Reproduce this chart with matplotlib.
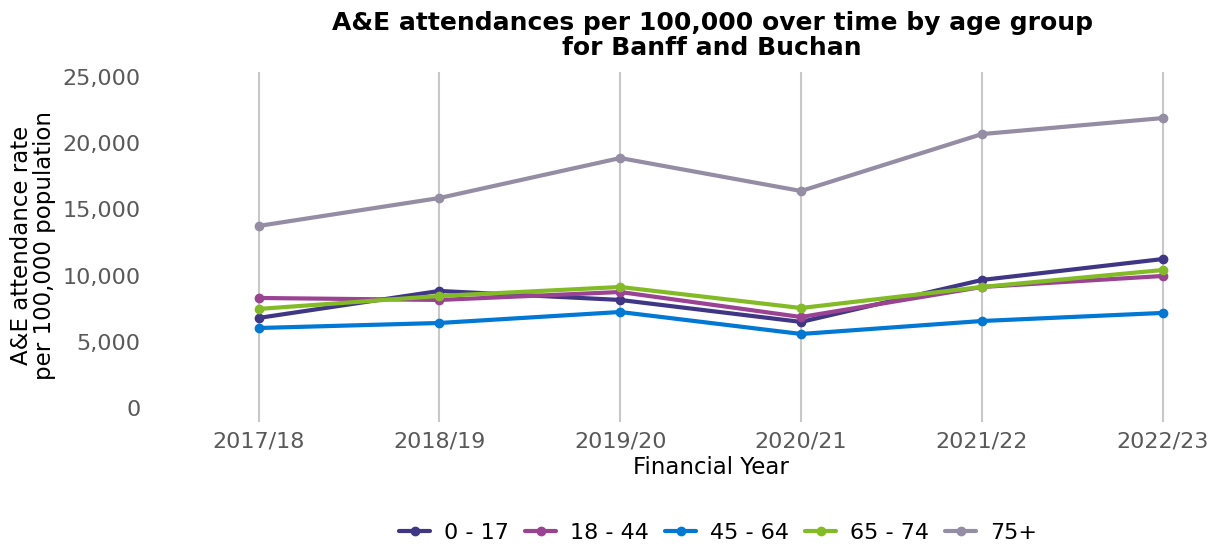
import matplotlib
matplotlib.use("Agg")
import matplotlib.pyplot as plt
from matplotlib.ticker import FuncFormatter

years = ["2017/18", "2018/19", "2019/20", "2020/21", "2021/22", "2022/23"]
age_0_17 = [6800, 8840, 8160, 6500, 9670, 11250]
age_18_44 = [8310, 8160, 8760, 6870, 9140, 9970]
age_45_64 = [6040, 6420, 7250, 5590, 6570, 7180]
age_65_74 = [7480, 8460, 9140, 7550, 9140, 10420]
age_75p = [13750, 15860, 18880, 16390, 20690, 21900]

series = [
    ("0 - 17", age_0_17, "#3F3685"),
    ("18 - 44", age_18_44, "#9B4393"),
    ("45 - 64", age_45_64, "#0078D4"),
    ("65 - 74", age_65_74, "#83BB26"),
    ("75+", age_75p, "#948DA3"),
]

W, H = 1216, 547
fig = plt.figure(figsize=(W / 100, H / 100), dpi=100)
l, r, t, b = 150, 1170, 72, 422
ax = fig.add_axes([l / W, 1 - b / H, (r - l) / W, (b - t) / H])

x = list(range(len(years)))
for name, vals, col in series:
    ax.plot(x, vals, color=col, lw=3, marker="o", ms=6, label=name,
            solid_capstyle="round")

ax.set_xlim(-0.6, 5.04)
ax.set_ylim(-1060, 25380)
ax.set_xticks(x)
ax.set_xticklabels(years)
ax.set_yticks(range(0, 25001, 5000))
ax.yaxis.set_major_formatter(FuncFormatter(lambda v, p: f"{int(v):,}"))
ax.grid(axis="x", color="#C8C8C8", lw=1.5)
ax.set_axisbelow(True)
for s in ax.spines.values():
    s.set_visible(False)
ax.tick_params(axis="both", length=0, labelsize=16, colors="#595959")
ax.tick_params(axis="x", pad=7)
ax.tick_params(axis="y", pad=7)

fig.text(712 / W, 1 - 35.5 / H, "A&E attendances per 100,000 over time by age group\nfor Banff and Buchan",
         ha="center", va="center", fontsize=18, fontweight="bold", linespacing=1.05)
fig.text(711 / W, 1 - 467 / H, "Financial Year", ha="center", va="center", fontsize=16.5)
fig.text(33 / W, 1 - 245 / H, "A&E attendance rate\nper 100,000 population", ha="center", va="center",
         fontsize=16.5, rotation=90, linespacing=0.95)

fig.legend(loc="center", bbox_to_anchor=(718 / W, 1 - 533 / H), ncol=5, frameon=False,
           fontsize=16, handlelength=1.4, columnspacing=0.75, handletextpad=0.6)

fig.savefig("out.png", dpi=100)
